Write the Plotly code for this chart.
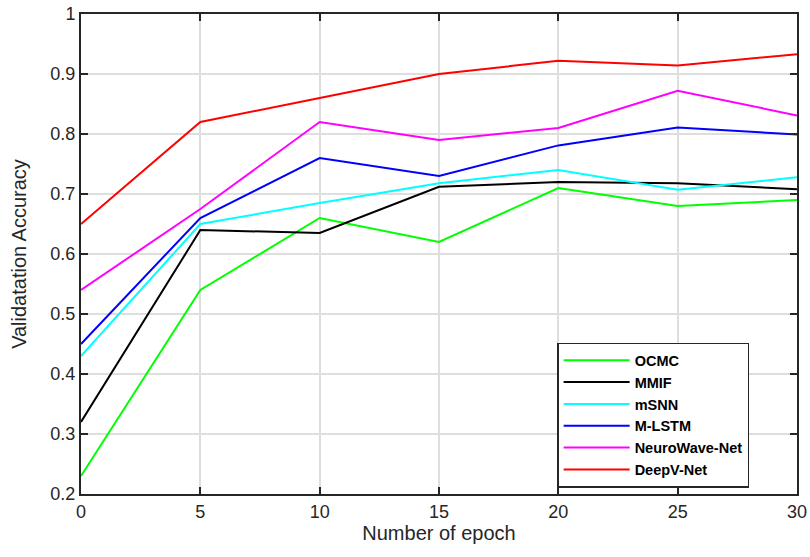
import plotly.graph_objects as go

epochs = [0, 5, 10, 15, 20, 25, 30]
ocmc = [0.23, 0.54, 0.66, 0.62, 0.71, 0.68, 0.69]
mmif = [0.32, 0.64, 0.635, 0.712, 0.72, 0.718, 0.708]
msnn = [0.43, 0.65, 0.685, 0.718, 0.74, 0.707, 0.728]
mlstm = [0.45, 0.66, 0.76, 0.73, 0.781, 0.811, 0.799]
neurowave = [0.54, 0.675, 0.82, 0.79, 0.81, 0.872, 0.831]
deepv = [0.65, 0.82, 0.86, 0.90, 0.922, 0.914, 0.933]

series = [
    ("OCMC", ocmc, "#00ff00"),
    ("MMIF", mmif, "#000000"),
    ("mSNN", msnn, "#00ffff"),
    ("M-LSTM", mlstm, "#0000ff"),
    ("NeuroWave-Net", neurowave, "#ff00ff"),
    ("DeepV-Net", deepv, "#ff0000"),
]

x_ticks = [0, 5, 10, 15, 20, 25, 30]
y_ticks = [0.2, 0.3, 0.4, 0.5, 0.6, 0.7, 0.8, 0.9, 1.0]
y_tick_labels = ["0.2", "0.3", "0.4", "0.5", "0.6", "0.7", "0.8", "0.9", "1"]

fig = go.Figure()
for name, vals, color in series:
    fig.add_trace(go.Scatter(x=epochs, y=vals, name=name, mode="lines",
                             line=dict(color=color, width=2)))

axis_common = dict(
    showline=True, linecolor="#262626", linewidth=2, mirror="ticks",
    ticks="inside", ticklen=7, tickwidth=2, tickcolor="#262626",
    showgrid=True, gridcolor="#dedede", gridwidth=1.5, zeroline=False,
    tickfont=dict(family="Arial", size=18, color="#262626"),
    automargin=False,
)

fig.update_xaxes(range=[0, 30], tickvals=x_ticks,
                 title=dict(text="Number of epoch", font=dict(family="Arial", size=20, color="#262626"), standoff=4),
                 **axis_common)
fig.update_yaxes(range=[0.2, 1.0], tickvals=y_ticks, ticktext=y_tick_labels,
                 title=dict(text="Validatation Accuracy", font=dict(family="Arial", size=20, color="#262626"), standoff=18),
                 **axis_common)

fig.update_layout(
    width=810, height=557,
    margin=dict(l=81, r=13, t=14, b=63),
    plot_bgcolor="white", paper_bgcolor="white",
    showlegend=True,
    legend=dict(
        x=0.665, y=0.315, xanchor="left", yanchor="top",
        bgcolor="white", bordercolor="#262626", borderwidth=1.5,
        font=dict(family="Arial", size=14.5, color="#000000", weight="bold"),
        itemwidth=66, tracegroupgap=0,
    ),
)

fig.write_html(
    "out.html",
    config={"displayModeBar": False},
    post_script="document.body.style.margin='0';document.body.style.overflow='hidden';",
)
